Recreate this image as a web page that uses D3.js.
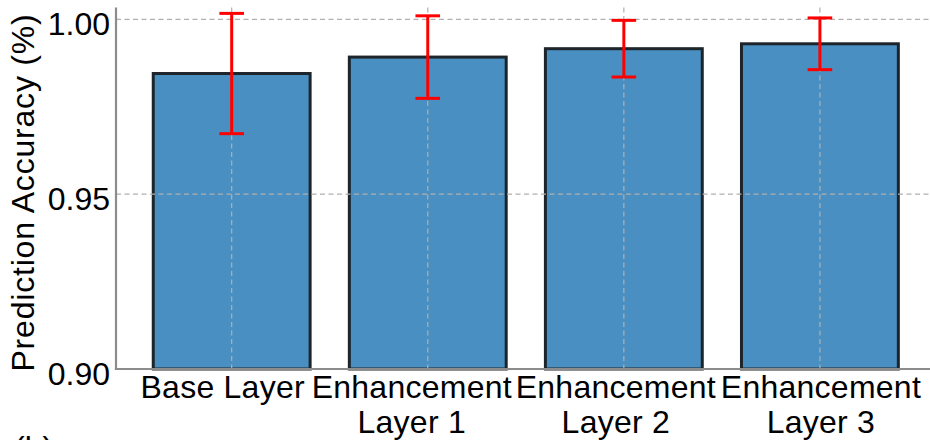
<!DOCTYPE html>
<html>
<head>
<meta charset="utf-8">
<script src="https://cdn.jsdelivr.net/npm/d3@7/dist/d3.min.js"></script>
<style>
  html, body { margin: 0; padding: 0; background: #fff; }
  svg { display: block; }
  text { font-family: "Liberation Sans", Arial, Helvetica, sans-serif; fill: #000; }
</style>
</head>
<body>
<svg id="chart" width="930" height="440"></svg>
<script>
// Prediction accuracy per layer, with error bars
const categories = ["Base Layer", "Enhancement\nLayer 1", "Enhancement\nLayer 2", "Enhancement\nLayer 3"];
const accuracy = [0.9845, 0.9892, 0.9916, 0.9930];
const errors = [0.0172, 0.0118, 0.0081, 0.0074];
const yTicks = [0.90, 0.95, 1.00];
const yLabel = "Prediction Accuracy (%)";

(function draw() {
  const W = 930;
  const svg = d3.select("#chart");

  // Plot frame
  const plotLeft = 116, plotRight = 935.6, plotTop = 7.5, plotBottom = 369;
  const barWidth = 0.8;

  const x = d3.scaleLinear().domain([-0.59, 3.59]).range([plotLeft, plotRight]);
  const y = d3.scaleLinear().domain([0.9, 1.00338]).range([plotBottom, plotTop]);

  const gridColor = "#b0b0b0";
  const fontSize = 32;
  const tracking = 0.25;

  // Bars
  svg.append("g").selectAll("rect")
    .data(accuracy)
    .join("rect")
    .attr("x", (d, i) => x(i - barWidth / 2))
    .attr("width", (d, i) => x(i + barWidth / 2) - x(i - barWidth / 2))
    .attr("y", d => y(d))
    .attr("height", d => plotBottom - y(d))
    .attr("fill", "#4a8fc1")
    .attr("stroke", "#1d252b")
    .attr("stroke-width", 3);

  // Grid (drawn above the bars)
  const grid = svg.append("g")
    .attr("stroke", gridColor)
    .attr("stroke-width", 1.2)
    .attr("stroke-dasharray", "5,3.5");
  grid.selectAll("line.h")
    .data(yTicks)
    .join("line")
    .attr("class", "h")
    .attr("x1", plotLeft).attr("x2", W)
    .attr("y1", d => y(d)).attr("y2", d => y(d));
  grid.selectAll("line.v")
    .data(categories)
    .join("line")
    .attr("class", "v")
    .attr("x1", (d, i) => x(i)).attr("x2", (d, i) => x(i))
    .attr("y1", plotTop).attr("y2", plotBottom);

  // Error bars
  const capHalf = 12.3;
  const eb = svg.append("g")
    .attr("stroke", "#ff0000")
    .attr("stroke-width", 3);
  accuracy.forEach((v, i) => {
    const cx = x(i), y0 = y(v - errors[i]), y1 = y(v + errors[i]);
    eb.append("line").attr("x1", cx).attr("x2", cx).attr("y1", y0).attr("y2", y1);
    eb.append("line").attr("x1", cx - capHalf).attr("x2", cx + capHalf).attr("y1", y0).attr("y2", y0);
    eb.append("line").attr("x1", cx - capHalf).attr("x2", cx + capHalf).attr("y1", y1).attr("y2", y1);
  });

  // Spines
  const spine = svg.append("g").attr("stroke", "#8c8c8c").attr("stroke-width", 2.2);
  spine.append("line").attr("x1", plotLeft).attr("x2", plotLeft).attr("y1", plotTop).attr("y2", plotBottom + 1.1);
  spine.append("line").attr("x1", plotLeft - 1.1).attr("x2", W).attr("y1", plotBottom).attr("y2", plotBottom);

  // Y tick labels
  const yAxis = svg.append("g")
    .attr("transform", `translate(${plotLeft - 6},0)`)
    .call(d3.axisLeft(y).tickValues(yTicks).tickFormat(d3.format(".2f")).tickSize(0).tickPadding(0));
  yAxis.select(".domain").remove();
  yAxis.selectAll("text")
    .attr("font-size", fontSize)
    .attr("dy", null)
    .attr("y", 15)
    .style("font-family", "'Liberation Sans', Arial, sans-serif")
    .attr("fill", "#000");

  // X tick labels (two-line category names)
  const labelShift = [-9, -16, -8, 1];
  const xl = svg.append("g");
  categories.forEach((c, i) => {
    const t = xl.append("text")
      .attr("text-anchor", "middle")
      .attr("font-size", fontSize)
      .attr("letter-spacing", tracking + "px");
    c.split("\n").forEach((line, k) => {
      t.append("tspan")
        .attr("x", x(i) + labelShift[i])
        .attr("y", 398 + k * 35)
        .text(line);
    });
  });

  // Y axis title
  svg.append("text")
    .attr("transform", "translate(34,192.5) rotate(-90)")
    .attr("text-anchor", "middle")
    .attr("font-size", fontSize)
    .attr("letter-spacing", "0.8px")
    .text(yLabel);

  // Panel tag
  svg.append("text")
    .attr("x", 14)
    .attr("y", 459)
    .attr("font-size", fontSize)
    .text("(b)");
})();
</script>
</body>
</html>
